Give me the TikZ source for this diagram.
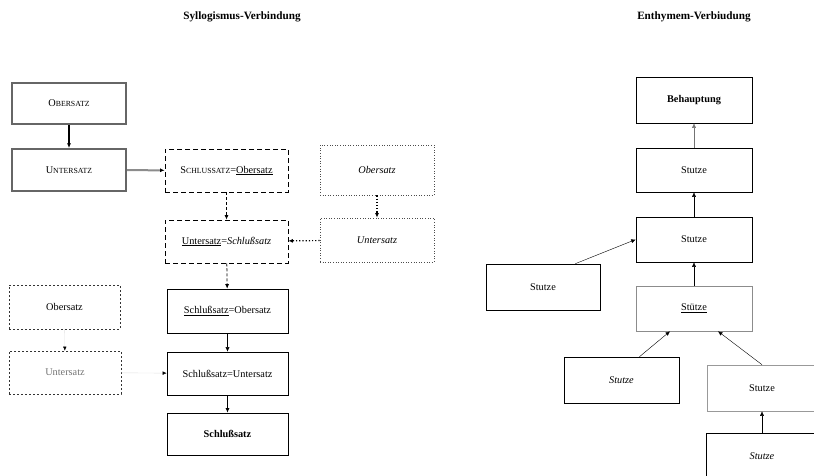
\documentclass[tikz,border=0pt]{standalone}
\usepackage{fontspec}
\setmainfont{Liberation Serif}
\usetikzlibrary{arrows.meta}
\newcommand{\fsc}[1]{{\fontsize{7.8}{9}\selectfont #1}}
\tikzset{
    box/.style={draw, line width=0.6pt, inner sep=2pt, font=\fontsize{10.3}{12}\selectfont},
    thickbox/.style={box, draw=black!60, line width=2pt},
    dashbox/.style={box, dash pattern=on 5pt off 3pt, line width=0.8pt},
    dotbox/.style={box, draw=black!70, dotted, line width=0.8pt},
    finebox/.style={box, draw=black!80, dash pattern=on 2pt off 2pt, line width=0.6pt},
    title/.style={font=\fontsize{11.2}{13}\selectfont\bfseries},
    tip/.style={-{Latex[length=4.5pt,width=4pt]}},
}
\begin{document}
\begin{tikzpicture}[x=1pt,y=-1pt]
    \useasboundingbox (0,0) rectangle (814,476);
    % Titles
    \node[title] (ttlL) at (242,17) {Syllogismus-Verbindung};
    \node[title] (ttlR) at (694,17) {Enthymem-Verbiudung};
    % Syllogism, top chain
    \node[thickbox, minimum width=114pt, minimum height=41pt] (obA) at (69,103.5) {O\fsc{BERSATZ}};
    \node[thickbox, minimum width=114pt, minimum height=42pt] (unA) at (69,170) {U\fsc{NTERSATZ}};
    \node[dashbox, minimum width=123pt, minimum height=43pt] (schlOb) at (226.5,170.5) {S\fsc{CHLUSSATZ}=\underline{Obersatz}};
    \node[dashbox, minimum width=123pt, minimum height=43pt] (unSchl) at (226.5,241.5) {\underline{Untersatz}=\textit{Schlußsatz}};
    \node[dotbox, minimum width=114pt, minimum height=50pt] (obDot) at (377,170) {\textit{Obersatz}};
    \node[dotbox, minimum width=114pt, minimum height=44pt] (unDot) at (377,240) {\textit{Untersatz}};
    \draw[tip, line width=1.6pt] (obA) -- (unA);
    \draw[-{Latex[length=4.5pt,width=4pt,black]}, draw=black!45, line width=2pt] (unA) -- (schlOb);
    \draw[tip, dash pattern=on 3pt off 2pt, line width=0.8pt] (schlOb) -- (unSchl);
    \draw[tip, dotted, line width=1.2pt] (obDot) -- (unDot);
    \draw[tip, dotted, line width=1.2pt] (unDot) -- (unSchl);
    % Syllogism, bottom chain
    \node[box, minimum width=121pt, minimum height=44pt] (sOb) at (227.5,311) {\underline{Schlußsatz}=Obersatz};
    \node[box, minimum width=121pt, minimum height=43pt] (sUn) at (227.5,373.5) {Schlußsatz=Untersatz};
    \node[box, line width=1pt, minimum width=121pt, minimum height=42pt] (schl) at (227.5,434) {\textbf{Schlußsatz}};
    \node[finebox, minimum width=111pt, minimum height=44pt] (obL) at (64.5,307) {Obersatz};
    \node[finebox, minimum width=112pt, minimum height=43pt, text=black!55] (unL) at (65,372.5) {Untersatz};
    \draw[tip, dash pattern=on 3pt off 2pt, line width=0.8pt] (unSchl) -- (sOb);
    \draw[tip] (sOb) -- (sUn);
    \draw[tip] (sUn) -- (schl);
    \draw[-{Latex[length=4pt,width=3.5pt,black]}, draw=black!12] (obL) -- (unL);
    \draw[-{Latex[length=4pt,width=3.5pt,black]}, draw=black!12] (unL) -- (sUn);
    % Enthymem
    \node[box, minimum width=116pt, minimum height=46pt] (beh) at (694,100) {\textbf{Behauptung}};
    \node[box, minimum width=116pt, minimum height=44pt] (stA) at (694,170) {Stutze};
    \node[box, minimum width=116pt, minimum height=45pt] (stB) at (694,239.5) {Stutze};
    \node[box, minimum width=114pt, minimum height=46pt] (stL) at (543,287) {Stutze};
    \node[box, draw=black!45, minimum width=116pt, minimum height=45pt] (stC) at (694,308.5) {\underline{Stütze}};
    \node[box, minimum width=115pt, minimum height=46pt] (stD) at (621.5,380) {\textit{Stutze}};
    \node[box, draw=black!40, minimum width=110pt, minimum height=46pt] (stE) at (762,388) {Stutze};
    \node[box, minimum width=112pt, minimum height=46pt] (stF) at (762,456) {\textit{Stutze}};
    \draw[tip, draw=black!55] (stA) -- (beh);
    \draw[tip] (stB) -- (stA);
    \draw[tip] (stL.north east) ++(-25,0) -- (stB.west);
    \draw[tip] (stC) -- (stB);
    \draw[tip] (stD.north) ++(18,0) -- ([xshift=-24pt]stC.south);
    \draw[tip] (stE.north) -- ([xshift=24pt]stC.south);
    \draw[tip] (stF) -- (stE);
\end{tikzpicture}
\end{document}
